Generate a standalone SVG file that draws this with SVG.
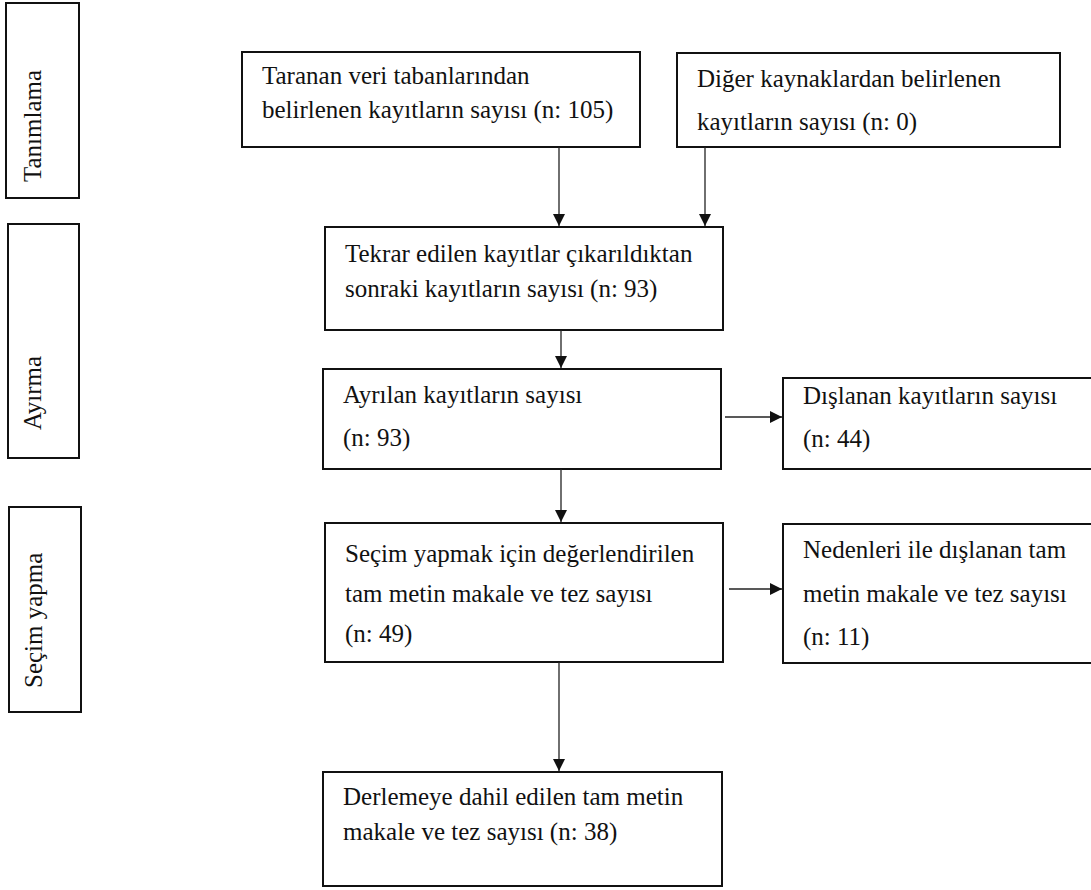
<svg xmlns="http://www.w3.org/2000/svg" width="1091" height="890" viewBox="0 0 1091 890">
<style>
.box{fill:#fff;stroke:#111;stroke-width:2}
.t{font-family:'Liberation Serif','DejaVu Serif',serif;font-size:25px;fill:#111}
.c{stroke:#222;stroke-width:1.3;fill:none}
</style>
<defs>
<marker id="ah" markerUnits="userSpaceOnUse" markerWidth="12" markerHeight="12" refX="12" refY="6" orient="auto">
<path d="M0,0 L12,6 L0,12 Z" fill="#111"/>
</marker>
</defs>
<rect width="1091" height="890" fill="#fff"/>
<g font-family="Liberation Serif, serif">
<g id="side-tanimlama"><rect class="box" x="6" y="3" width="73" height="195"/><text class="t" transform="translate(41,182) rotate(-90)">Tanımlama</text></g>
<g id="side-ayirma"><rect class="box" x="8" y="224" width="71" height="234"/><text class="t" transform="translate(41,430) rotate(-90)">Ayırma</text></g>
<g id="side-secim"><rect class="box" x="9" y="507" width="72" height="205"/><text class="t" transform="translate(42,688) rotate(-90)">Seçim yapma</text></g>

<g id="n1"><rect class="box" x="242" y="52" width="398" height="95"/><text class="t" x="262" y="84">Taranan veri tabanlarından</text><text class="t" x="262" y="118">belirlenen kayıtların sayısı (n: 105)</text></g>
<g id="n2"><rect class="box" x="677" y="53" width="383" height="94"/><text class="t" x="697" y="87">Diğer kaynaklardan belirlenen</text><text class="t" x="697" y="130">kayıtların sayısı (n: 0)</text></g>
<g id="n3"><rect class="box" x="325" y="227" width="398" height="103"/><text class="t" x="345" y="262">Tekrar edilen kayıtlar çıkarıldıktan</text><text class="t" x="345" y="297">sonraki kayıtların sayısı (n: 93)</text></g>
<g id="n4"><rect class="box" x="323" y="369" width="398" height="100"/><text class="t" x="343" y="403">Ayrılan kayıtların sayısı</text><text class="t" x="343" y="446">(n: 93)</text></g>
<g id="n5"><rect class="box" x="783" y="378" width="312" height="91"/><text class="t" x="803" y="404">Dışlanan kayıtların sayısı</text><text class="t" x="803" y="447">(n: 44)</text></g>
<g id="n6"><rect class="box" x="325" y="523" width="398" height="139"/><text class="t" x="345" y="562">Seçim yapmak için değerlendirilen</text><text class="t" x="345" y="602">tam metin makale ve tez sayısı</text><text class="t" x="345" y="642">(n: 49)</text></g>
<g id="n7"><rect class="box" x="783" y="524" width="312" height="139"/><text class="t" x="803" y="558">Nedenleri ile dışlanan tam</text><text class="t" x="803" y="602">metin makale ve tez sayısı</text><text class="t" x="803" y="645">(n: 11)</text></g>
<g id="n8"><rect class="box" x="323" y="772" width="399" height="114"/><text class="t" x="343" y="805">Derlemeye dahil edilen tam metin</text><text class="t" x="343" y="840">makale ve tez sayısı (n: 38)</text></g>
</g>
<g id="connectors">
<line class="c" x1="559" y1="147" x2="559" y2="226" marker-end="url(#ah)"/>
<line class="c" x1="705" y1="147" x2="705" y2="226" marker-end="url(#ah)"/>
<line class="c" x1="561" y1="330" x2="561" y2="368" marker-end="url(#ah)"/>
<line class="c" x1="725" y1="417" x2="782" y2="417" marker-end="url(#ah)"/>
<line class="c" x1="561" y1="469" x2="561" y2="522" marker-end="url(#ah)"/>
<line class="c" x1="729" y1="589" x2="782" y2="589" marker-end="url(#ah)"/>
<line class="c" x1="559" y1="662" x2="559" y2="771" marker-end="url(#ah)"/>
</g>
</svg>
